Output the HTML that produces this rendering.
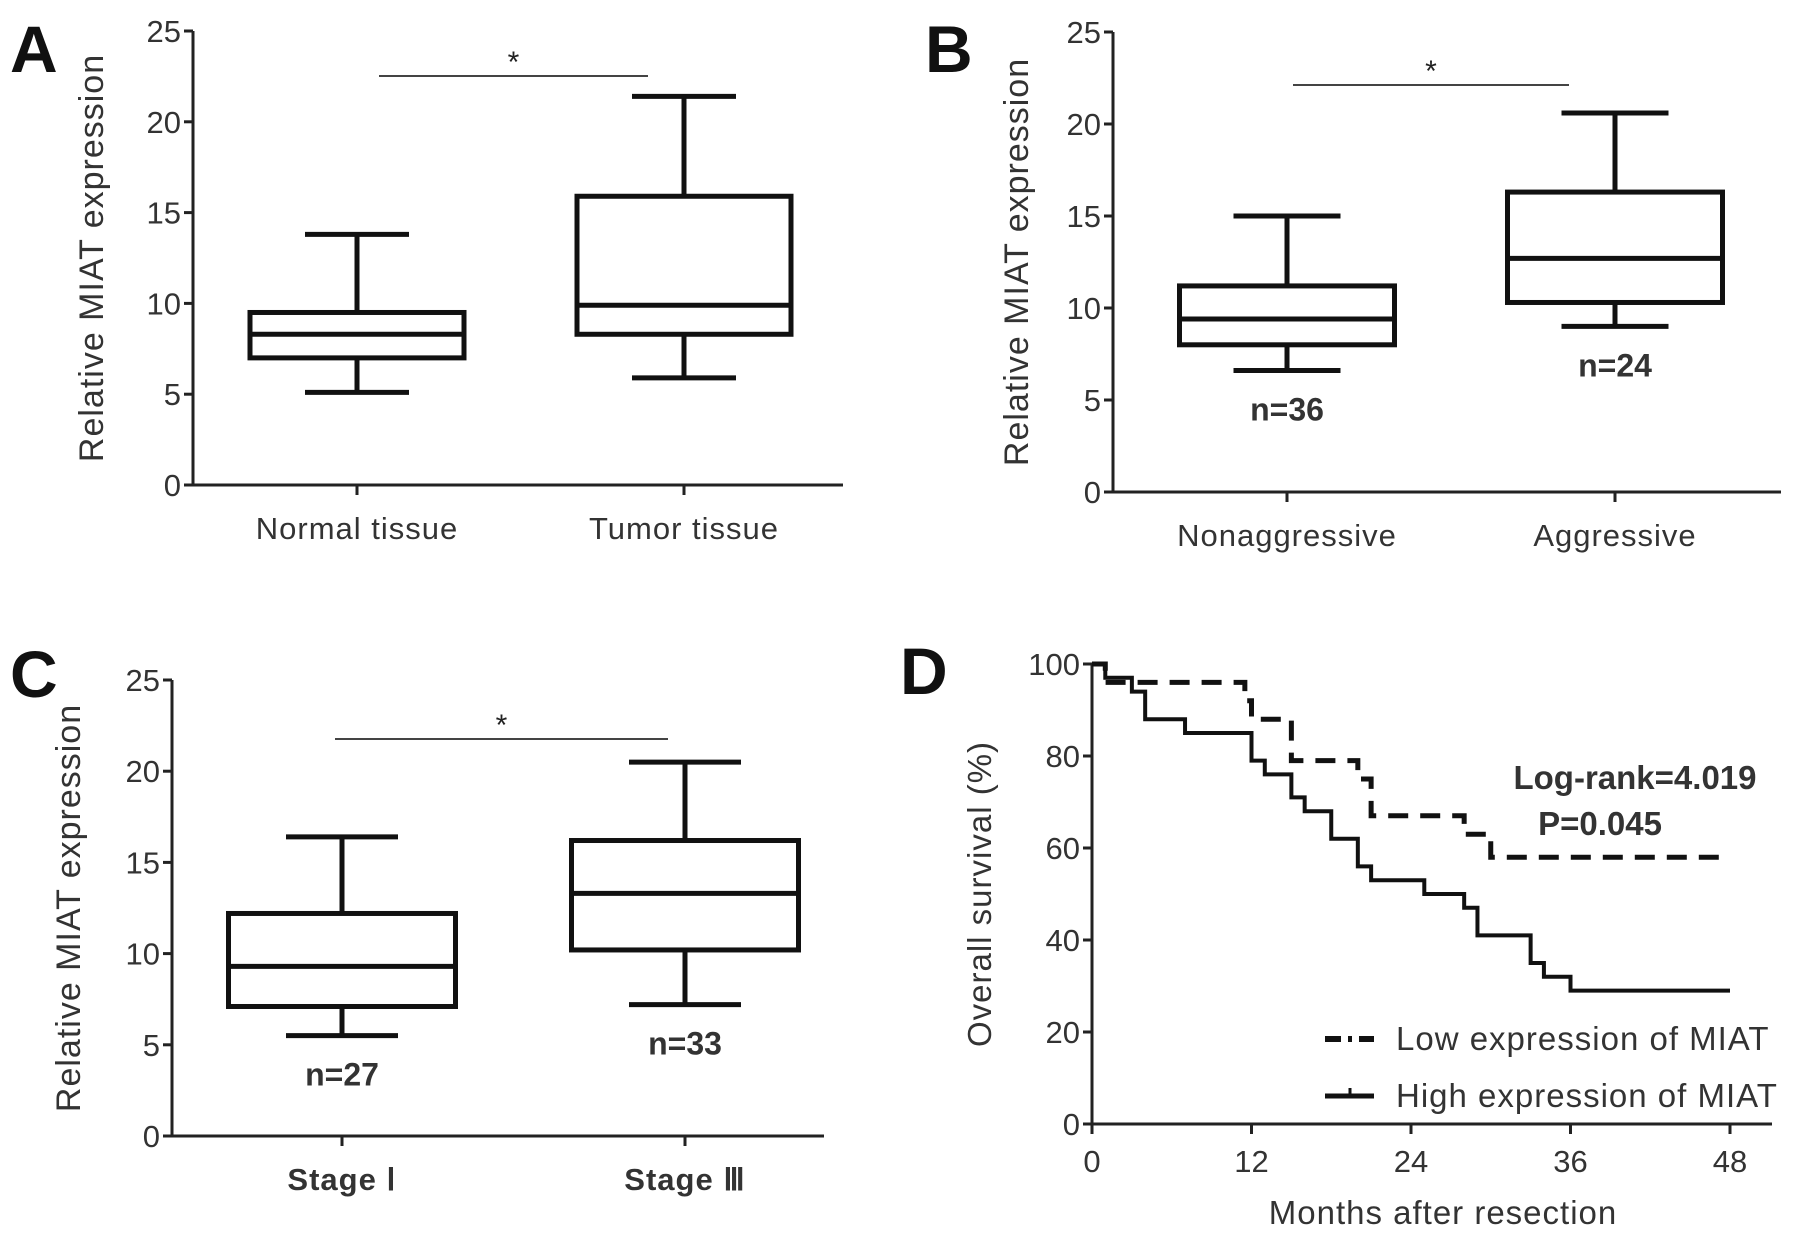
<!DOCTYPE html>
<html><head><meta charset="utf-8"><style>
html,body{margin:0;padding:0;background:#fff;}
svg{display:block;font-family:"Liberation Sans",sans-serif;}
</style></head><body>
<svg id="fig" width="1795" height="1240" viewBox="0 0 1795 1240" xmlns="http://www.w3.org/2000/svg"></svg>
<script>
// Panel A data
const catsA = ["Normal tissue", "Tumor tissue"];
const minA = [5.1, 5.9];
const q1A = [7.0, 8.3];
const medA = [8.3, 9.9];
const q3A = [9.5, 15.9];
const maxA = [13.8, 21.4];
// Panel B data
const catsB = ["Nonaggressive", "Aggressive"];
const minB = [6.6, 9.0];
const q1B = [8.0, 10.3];
const medB = [9.4, 12.7];
const q3B = [11.2, 16.3];
const maxB = [15.0, 20.6];
const nB = ["n=36", "n=24"];
// Panel C data
const catsC = ["Stage \u2160", "Stage \u2162"];
const minC = [5.5, 7.2];
const q1C = [7.1, 10.2];
const medC = [9.3, 13.3];
const q3C = [12.2, 16.2];
const maxC = [16.4, 20.5];
const nC = ["n=27", "n=33"];
const boxTicks = [0, 5, 10, 15, 20, 25];
// Panel D data
const lowTimes = [0, 1, 11.5, 12, 15, 20, 21, 28, 30, 48];
const lowSurv = [100, 96, 92, 88, 79, 75, 67, 63, 58, 58];
const highTimes = [0, 1, 3, 4, 7, 12, 13, 15, 16, 18, 20, 21, 25, 28, 29, 33, 34, 36, 48];
const highSurv = [100, 97, 94, 88, 85, 79, 76, 71, 68, 62, 56, 53, 50, 47, 41, 35, 32, 29, 29];
const kmXTicks = [0, 12, 24, 36, 48];
const kmYTicks = [0, 20, 40, 60, 80, 100];

const svg = document.getElementById('fig');
const NS = 'http://www.w3.org/2000/svg';
function mk(tag, attrs, parent, text) {
  const e = document.createElementNS(NS, tag);
  for (const k in attrs) e.setAttribute(k, attrs[k]);
  if (text !== undefined) e.textContent = text;
  (parent || svg).appendChild(e);
  return e;
}

function boxPanel(cfg) {
  const g = mk('g', {});
  
  
  const y = v => cfg.y0 + (cfg.y25 - cfg.y0) * v / 25;
  const L = mk('text', {x: cfg.letterX, y: cfg.letterY, 'font-size': 66, 'font-weight': 'bold', fill: '#111'}, g, cfg.letter);
  
  
  const ax = mk('path', {d: `M${cfg.ax},${cfg.y25} L${cfg.ax},${cfg.y0} L${cfg.xend},${cfg.y0}`, stroke: '#222', 'stroke-width': 3, fill: 'none'}, g);
  
  
  boxTicks.forEach(t => {
    mk('line', {x1: cfg.ax - 9, x2: cfg.ax, y1: y(t), y2: y(t), stroke: '#222', 'stroke-width': 3}, g);
    const tl = mk('text', {x: cfg.ax - 12, y: y(t) + 11, 'text-anchor': 'end', 'font-size': 31, fill: '#333'}, g, String(t));
    
    
  });
  const yt = mk('text', {x: 0, y: 0, 'text-anchor': 'middle', 'font-size': 34, fill: '#333', 'letter-spacing': 1, transform: `translate(${cfg.titleX},${(cfg.y25 + cfg.y0) / 2}) rotate(-90)`}, g, 'Relative MIAT expression');
  
  
  cfg.cats.forEach((c, i) => {
    const cx = cfg.ticks[i];
    mk('line', {x1: cx, x2: cx, y1: cfg.y0, y2: cfg.y0 + 10, stroke: '#222', 'stroke-width': 3}, g);
    const cl = mk('text', {x: cx, y: cfg.y0 + 54, 'text-anchor': 'middle', 'font-size': 31, fill: '#333', 'font-weight': cfg.boldCats ? 'bold' : 'normal', 'letter-spacing': 1}, g, c);
    
    
    const bw = cfg.boxW, cw = cfg.capW;
    const bg = mk('g', {stroke: '#111', 'stroke-width': 5, fill: 'none'}, g);
    
    
    mk('line', {x1: cx, x2: cx, y1: y(cfg.max[i]), y2: y(cfg.q3[i])}, bg);
    mk('line', {x1: cx, x2: cx, y1: y(cfg.q1[i]), y2: y(cfg.min[i])}, bg);
    mk('line', {x1: cx - cw / 2, x2: cx + cw / 2, y1: y(cfg.max[i]), y2: y(cfg.max[i])}, bg);
    mk('line', {x1: cx - cw / 2, x2: cx + cw / 2, y1: y(cfg.min[i]), y2: y(cfg.min[i])}, bg);
    mk('rect', {x: cx - bw / 2, y: y(cfg.q3[i]), width: bw, height: y(cfg.q1[i]) - y(cfg.q3[i])}, bg);
    mk('line', {x1: cx - bw / 2, x2: cx + bw / 2, y1: y(cfg.med[i]), y2: y(cfg.med[i])}, bg);
    if (cfg.n) {
      const nt = mk('text', {x: cx, y: y(cfg.min[i]) + cfg.nOff[i], 'text-anchor': 'middle', 'font-size': 32, 'font-weight': 'bold', fill: '#333'}, g, cfg.n[i]);
      
      
    }
  });
  const sl = mk('line', {x1: cfg.sig[0], x2: cfg.sig[1], y1: cfg.sigY, y2: cfg.sigY, stroke: '#444', 'stroke-width': 2}, g);
  
  
  const st = mk('text', {x: (cfg.sig[0] + cfg.sig[1]) / 2, y: cfg.sigY - 4, 'text-anchor': 'middle', 'font-size': 30, fill: '#222'}, g, '*');
  
  
}

boxPanel({name: 'panel-a', letter: 'A', letterX: 10, letterY: 72, ax: 193, y25: 31, y0: 485, xend: 843, ticks: [357, 684], titleX: 103,
  cats: catsA, min: minA, q1: q1A, med: medA, q3: q3A, max: maxA, boxW: 214, capW: 104, sig: [379, 648], sigY: 76});
boxPanel({name: 'panel-b', letter: 'B', letterX: 925, letterY: 72, ax: 1113, y25: 32, y0: 492, xend: 1781, ticks: [1287, 1615], titleX: 1028,
  cats: catsB, min: minB, q1: q1B, med: medB, q3: q3B, max: maxB, boxW: 215, capW: 107, sig: [1293, 1569], sigY: 85, n: nB, nOff: [50, 50]});
boxPanel({name: 'panel-c', letter: 'C', letterX: 10, letterY: 697, ax: 172, y25: 680, y0: 1136, xend: 824, ticks: [342, 685], titleX: 80,
  cats: catsC, min: minC, q1: q1C, med: medC, q3: q3C, max: maxC, boxW: 227, capW: 112, sig: [335, 668], sigY: 739, n: nC, nOff: [50, 50], boldCats: true});

// Panel D
(function () {
  const g = mk('g', {});
  
  
  const X0 = 1092, X48 = 1730, Y100 = 664, Y0 = 1124;
  const x = t => X0 + (X48 - X0) * t / 48;
  const y = s => Y0 + (Y100 - Y0) * s / 100;
  const L = mk('text', {x: 900, y: 694, 'font-size': 66, 'font-weight': 'bold', fill: '#111'}, g, 'D');
  
  
  const ax = mk('path', {d: `M${X0},${Y100} L${X0},${Y0} L1772,${Y0}`, stroke: '#222', 'stroke-width': 3, fill: 'none'}, g);
  
  
  kmYTicks.forEach(t => {
    mk('line', {x1: X0 - 9, x2: X0, y1: y(t), y2: y(t), stroke: '#222', 'stroke-width': 3}, g);
    const tl = mk('text', {x: X0 - 12, y: y(t) + 11, 'text-anchor': 'end', 'font-size': 31, fill: '#333'}, g, String(t));
    
    
  });
  kmXTicks.forEach(t => {
    mk('line', {x1: x(t), x2: x(t), y1: Y0, y2: Y0 + 10, stroke: '#222', 'stroke-width': 3}, g);
    const tl = mk('text', {x: x(t), y: Y0 + 48, 'text-anchor': 'middle', 'font-size': 31, fill: '#333'}, g, String(t));
    
    
  });
  const yt = mk('text', {x: 0, y: 0, 'text-anchor': 'middle', 'font-size': 33, fill: '#333', 'letter-spacing': 1, transform: `translate(991,${(Y0 + Y100) / 2}) rotate(-90)`}, g, 'Overall survival (%)');
  
  
  const xt = mk('text', {x: 1443, y: 1224, 'text-anchor': 'middle', 'font-size': 33, fill: '#333', 'letter-spacing': 1}, g, 'Months after resection');
  
  
  function step(times, surv) {
    let d = `M${x(times[0])},${y(surv[0])}`;
    for (let i = 1; i < times.length; i++) {
      d += ` L${x(times[i])},${y(surv[i - 1])} L${x(times[i])},${y(surv[i])}`;
    }
    return d;
  }
  const lo = mk('path', {d: step(lowTimes, lowSurv), stroke: '#111', 'stroke-width': 5, fill: 'none', 'stroke-dasharray': '20 12'}, g);
  
  
  const hi = mk('path', {d: step(highTimes, highSurv), stroke: '#111', 'stroke-width': 4, fill: 'none'}, g);
  
  
  const lr = mk('text', {x: 1635, y: 789, 'text-anchor': 'middle', 'font-size': 33, 'font-weight': 'bold', fill: '#333'}, g, 'Log-rank=4.019');
  
  
  const pv = mk('text', {x: 1600, y: 835, 'text-anchor': 'middle', 'font-size': 33, 'font-weight': 'bold', fill: '#333'}, g, 'P=0.045');
  
  
  const l1 = mk('g', {}, g);
  
  
  mk('line', {x1: 1325, x2: 1374, y1: 1039, y2: 1039, stroke: '#111', 'stroke-width': 6, 'stroke-dasharray': '16 7 4 7'}, l1);
  mk('text', {x: 1396, y: 1050, 'font-size': 33, fill: '#333', 'letter-spacing': 1}, l1, 'Low expression of MIAT');
  const l2 = mk('g', {}, g);
  
  
  mk('line', {x1: 1325, x2: 1374, y1: 1096, y2: 1096, stroke: '#111', 'stroke-width': 5}, l2);
  mk('line', {x1: 1350, x2: 1350, y1: 1088, y2: 1096, stroke: '#111', 'stroke-width': 3}, l2);
  mk('text', {x: 1396, y: 1107, 'font-size': 33, fill: '#333', 'letter-spacing': 1}, l2, 'High expression of MIAT');
})();
</script>
</body></html>
